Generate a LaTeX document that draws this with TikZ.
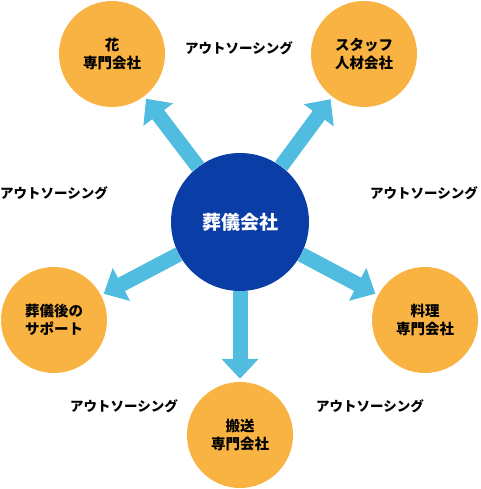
\documentclass[tikz,border=0pt]{standalone}
\usepackage{fontspec}
\setmainfont{Noto Sans CJK JP}
\usetikzlibrary{arrows.meta}
\definecolor{hubBlue}{HTML}{0B3DA6}
\definecolor{partnerOrange}{HTML}{F9B342}
\definecolor{flowCyan}{HTML}{50BDE0}
\begin{document}
\begin{tikzpicture}[x=1pt, y=-1pt,
  hub/.style={circle, fill=hubBlue, minimum size=138pt, inner sep=0pt,
    text=white, font=\fontsize{19}{22}\selectfont\bfseries},
  partner/.style={circle, fill=partnerOrange, minimum size=106pt, inner sep=0pt,
    align=center, font=\fontsize{14.5}{18}\selectfont\bfseries},
  outsrc/.style={font=\fontsize{13.5}{15}\selectfont\bfseries},
  flow/.style={draw=flowCyan, line width=15pt, shorten >=3pt,
    -{Triangle[width=36pt, length=20pt]}}]
\useasboundingbox (0,0) rectangle (480,489);
% Partner companies
\node[partner] (flower)  at (112,54)  {花\\専門会社};
\node[partner] (staff)   at (364,54)  {スタッフ\\人材会社};
\node[partner] (after)   at (54,320)  {葬儀後の\\サポート};
\node[partner] (catering) at (425,320) {料理\\専門会社};
\node[partner] (transport) at (240,435) {搬送\\専門会社};
% Funeral company
\node[hub] (funeral) at (240,222) {葬儀会社};
% Outsourcing arrows
\draw[flow] (funeral) -- (flower);
\draw[flow] (funeral) -- (staff);
\draw[flow] (funeral) -- (after);
\draw[flow] (funeral) -- (catering);
\draw[flow] (funeral) -- (transport);
% Labels
\node[outsrc] (outTop)    at (239,48)  {アウトソーシング};
\node[outsrc] (outLeft)   at (54,193)  {アウトソーシング};
\node[outsrc] (outRight)  at (424,193) {アウトソーシング};
\node[outsrc] (outBotL)   at (124,406) {アウトソーシング};
\node[outsrc] (outBotR)   at (370,406) {アウトソーシング};
\end{tikzpicture}
\end{document}
